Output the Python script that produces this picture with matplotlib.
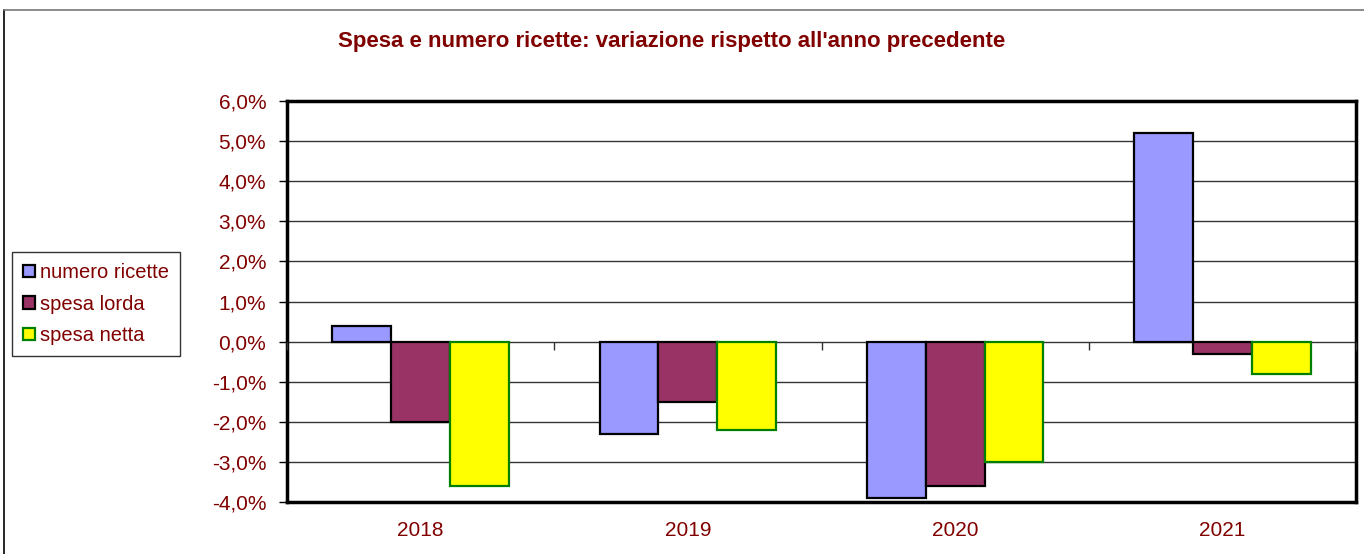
import matplotlib
matplotlib.use("Agg")
import matplotlib.pyplot as plt
from matplotlib.lines import Line2D
from matplotlib.ticker import FuncFormatter, MultipleLocator
import numpy as np

plt.rcParams['font.family'] = ['Liberation Sans', 'DejaVu Sans']

years = ["2018", "2019", "2020", "2021"]
numero_ricette = [0.4, -2.3, -3.9, 5.2]
spesa_lorda = [-2.0, -1.5, -3.6, -0.3]
spesa_netta = [-3.6, -2.2, -3.0, -0.8]
series_names = ["numero ricette", "spesa lorda", "spesa netta"]
title = "Spesa e numero ricette: variazione rispetto all'anno precedente"

W, H = 1364, 554
fig = plt.figure(figsize=(W / 100, H / 100), dpi=100)
fig.patch.set_facecolor("white")

L, R, T, B = 287, 1356, 101, 502
ax = fig.add_axes([L / W, 1 - B / H, (R - L) / W, (B - T) / H])

dark_red = "#800000"
x = np.arange(len(years))
bw = 0.22
styles = [
    dict(color="#9999FF", edgecolor="black"),
    dict(color="#993366", edgecolor="black"),
    dict(color="#FFFF00", edgecolor="#008000"),
]
handles = []
for k, (vals, st) in enumerate(zip([numero_ricette, spesa_lorda, spesa_netta], styles)):
    bars = ax.bar(x + (k - 1) * bw, vals, width=bw, color=st["color"],
                  edgecolor=st["edgecolor"], linewidth=1.6, zorder=3,
                  label=series_names[k])
    handles.append(bars)

ax.set_xlim(-0.5, len(years) - 0.5)
ax.set_ylim(-4, 6)
ax.yaxis.set_major_locator(MultipleLocator(1))
ax.yaxis.set_major_formatter(FuncFormatter(lambda v, p: f"{v:.1f}%".replace(".", ",")))
ax.grid(axis="y", color="#333333", linewidth=1.0, zorder=0)
ax.set_xticks(x)
ax.set_xticklabels(years)
ax.tick_params(axis="x", length=0, pad=14, labelsize=15, labelcolor=dark_red)
ax.tick_params(axis="y", length=6, width=1, direction="out", labelsize=15,
               labelcolor=dark_red, pad=9)
for s in ax.spines.values():
    s.set_linewidth(2.5)
    s.set_color("black")

# category tick marks on the zero line
ax2 = ax.twiny()
ax2.set_xlim(ax.get_xlim())
ax2.xaxis.set_ticks_position("bottom")
ax2.spines["bottom"].set_position(("data", 0))
for s in ax2.spines.values():
    s.set_visible(False)
ax2.set_xticks(np.arange(len(years) + 1) - 0.5)
ax2.set_xticklabels([])
ax2.tick_params(axis="x", length=6, width=1, color="#333333", direction="out")

fig.text(672 / W, 1 - 42 / H, title, ha="center", va="center",
         fontsize=16, fontweight="bold", color=dark_red)

leg = fig.legend(handles=handles, labels=series_names, loc="upper left",
                 bbox_to_anchor=(12 / W, 1 - 252 / H), frameon=True,
                 fancybox=False, edgecolor="black", fontsize=14.5,
                 handlelength=0.6, handleheight=0.6, handletextpad=0.25,
                 labelspacing=0.62, borderpad=0.55, borderaxespad=0)
leg.get_frame().set_linewidth(1.0)
for t in leg.get_texts():
    t.set_color(dark_red)

fig.add_artist(Line2D([4 / W, 4 / W], [0, 1 - 10 / H], color="black", linewidth=1.2))
fig.add_artist(Line2D([4 / W, 1], [1 - 10 / H, 1 - 10 / H], color="#777777", linewidth=1.2))

fig.savefig("out.png", dpi=100, facecolor="white")
